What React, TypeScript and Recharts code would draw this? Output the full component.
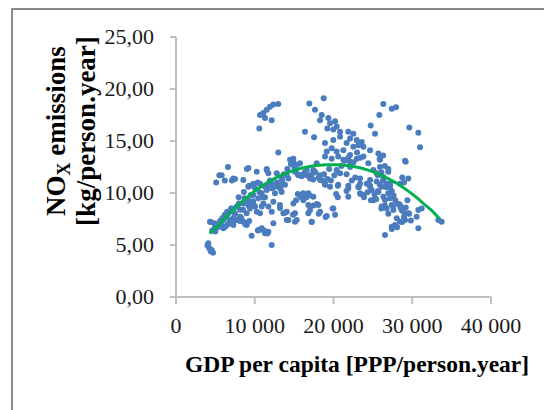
import React from "react";
import { ComposedChart, Scatter, XAxis, YAxis } from "recharts";

// ── Tokens ──
const BLUE = "#4A7CBE";
const GREEN = "#00B050";
const AXIS = "#BFBFBF";
const FONT = "'Liberation Serif', 'Times New Roman', serif";

// ── Data: [GDP per capita, NOx emissions] ──
const lowLeft: [number, number][] = [
  [4000, 4.95], [4200, 4.7], [4400, 4.4], [4700, 4.25], [4100, 5.16], [4530, 4.52],
  [4400, 7.2], [4900, 7.1], [5300, 6.7], [4600, 6.4], [5700, 7.0], [5000, 6.3], [6000, 6.6], [4320, 7.24], [4950, 6.76],
  [5100, 11.0], [5500, 11.7], [6600, 12.5], [6200, 11.2], [7100, 11.2], [7500, 11.35], [9000, 12.3], [9200, 12.4], [5800, 11.7], [7280, 11.4], [8550, 11.25],
  [5200, 6.9], [5600, 7.3], [5900, 7.6], [6200, 7.9], [6500, 8.2], [6800, 7.4], [7000, 8.5], [7200, 7.2], [7500, 8.0], [7800, 8.7],
  [8000, 9.0], [8300, 7.6], [8500, 8.4], [8700, 9.5], [9000, 7.1], [9200, 8.8], [9500, 9.8], [9800, 9.2], [6300, 6.8], [6600, 7.0],
  [7300, 7.6], [8100, 7.3], [8800, 7.0], [9300, 7.3], [9600, 5.9],
  [5590, 7.09], [6010, 7.4], [6440, 7.72], [6220, 6.76], [6860, 7.24], [7280, 6.92], [7700, 7.4], [8130, 7.72], [8550, 7.24], [8970, 6.92],
  [6640, 8.05], [7280, 8.2], [7700, 8.7], [7070, 8.5], [8130, 8.4], [8550, 9.0], [8970, 8.05], [9400, 8.5], [9820, 9.0],
  [9180, 9.3], [9820, 9.8], [7960, 9.6], [8620, 10.1], [9280, 10.7], [9060, 9.1], [9950, 10.55], [9180, 10.6], [9820, 10.9],
];

const middle: [number, number][] = [
  [10250, 8.2], [10450, 9.5], [10880, 9.97], [11300, 9.6], [11520, 10.3], [12150, 10.45], [12570, 9.97], [12990, 10.6], [13420, 10.1], [13840, 10.8],
  [11090, 9.0], [11730, 8.7], [12150, 8.2], [10670, 8.05], [10880, 8.7], [10030, 8.7],
  [12360, 9.17], [13200, 8.85], [13630, 8.05], [14060, 8.2], [14900, 9.0], [15110, 8.05], [15330, 7.4], [14270, 7.4], [15750, 9.8], [16170, 9.3], [16800, 9.97], [16800, 8.85],
  [12360, 7.1], [10880, 6.6], [10450, 6.44], [11300, 6.12], [11730, 6.28], [10400, 6.4], [10800, 6.5], [11200, 6.4], [11600, 6.1], [12150, 5.0],
  [13840, 8.1], [14060, 7.4], [14860, 7.9], [15110, 7.24], [13200, 8.55],
  [10390, 11.0], [10610, 10.07], [11050, 9.6], [11490, 10.7], [11930, 11.2], [12380, 10.55], [12820, 11.0], [13260, 10.4], [13480, 11.2], [13700, 11.8],
  [14140, 12.3], [14590, 12.8], [14810, 13.1], [15030, 12.45], [15470, 11.8], [15910, 11.7], [16350, 12.0], [15470, 9.9], [15250, 9.3], [15910, 9.6], [16570, 9.6],
  [10250, 12.05], [11520, 12.2], [11730, 11.9], [12790, 11.9], [13420, 11.4], [14060, 11.7], [14270, 11.4], [10670, 10.9], [11300, 10.6], [12150, 10.9], [13200, 10.7],
  [14480, 13.2], [14900, 13.0], [15330, 12.7], [15110, 12.05], [15540, 11.7], [15960, 11.6], [16600, 12.2], [14900, 13.3], [14690, 13.0], [11520, 12.3],
  [12990, 13.9], [15750, 12.85], [16600, 11.7], [17440, 11.3],
];

const highClusters: [number, number][] = [
  [10580, 16.2], [10670, 17.5], [11090, 17.7], [11520, 18.0], [11940, 18.3], [12360, 18.5], [12990, 18.55], [11300, 17.2], [12150, 17.0],
  [16380, 15.9], [16930, 18.6], [18750, 19.1], [17650, 18.0], [18500, 17.5], [18290, 17.0], [19350, 17.2], [19560, 16.7], [20200, 16.9],
  [20400, 16.4], [20830, 15.9], [19980, 16.1], [17530, 15.35], [19220, 16.2],
  [26330, 18.55], [27390, 18.1], [27940, 18.25], [25820, 17.5], [24720, 16.5], [25270, 15.7], [29630, 16.3], [30770, 15.8], [30990, 14.4], [29080, 13.1],
];

const right: [number, number][] = [
  [18920, 14.8], [19980, 15.1], [20830, 15.4], [21880, 15.9], [22520, 15.7], [22100, 15.25], [22950, 15.1], [23590, 14.9], [23800, 14.45], [23150, 14.6],
  [22520, 14.45], [21670, 14.8], [21250, 14.1], [20400, 14.0], [19770, 14.3], [19140, 14.0], [18920, 13.5], [19770, 13.3], [20600, 13.5], [21250, 13.2],
  [22100, 13.65], [22950, 13.3], [23800, 13.5], [24640, 14.1], [25700, 13.8], [25900, 13.2],
  [24420, 12.85], [25060, 12.2], [25900, 12.5], [25480, 11.9], [26330, 11.55], [26960, 12.05], [23370, 11.4], [24640, 11.25], [17870, 12.85], [17440, 12.2],
  [18290, 11.7], [17020, 11.4], [20400, 12.2], [20830, 11.9], [22100, 13.0],
  [18920, 10.8], [19560, 10.6], [20600, 10.8], [21880, 10.7], [23370, 10.9], [24640, 10.7], [25900, 10.8], [27170, 10.6], [28450, 10.9], [29500, 11.4],
  [16170, 9.97], [17440, 9.65], [17020, 8.37], [16800, 8.05], [18070, 8.85], [18290, 8.2], [17230, 7.24], [19140, 7.8], [19980, 8.5], [20200, 7.9],
  [21880, 10.45], [21880, 9.65], [23150, 10.6], [23370, 9.97], [23800, 9.8], [24640, 10.6], [24850, 10.3], [25270, 9.5], [25060, 9.3], [25700, 10.1],
  [26120, 10.6], [26330, 9.65], [26540, 9.33], [26960, 9.97], [27170, 9.5], [27390, 8.85], [26120, 8.7], [26750, 8.5], [27600, 8.37], [28450, 8.85],
  [28660, 8.37], [29080, 8.05], [28870, 8.5], [29500, 8.05], [28030, 7.57], [28450, 7.24], [27810, 6.92], [27390, 6.76], [29080, 7.4], [30770, 8.37],
  [30560, 7.72], [30770, 6.6], [31200, 8.5], [33310, 7.4], [33730, 7.24], [26540, 5.96],
  [18920, 10.9], [18290, 11.25], [24220, 10.9], [25480, 11.1], [26750, 10.9],
  [17020, 9.75], [17460, 8.8], [17900, 8.95], [18120, 8.0], [19000, 7.7], [19890, 8.5], [17240, 7.2],
  [17240, 11.8], [17680, 12.0], [18120, 11.5], [18560, 11.2], [18790, 11.8], [19230, 11.35], [19450, 12.3], [19670, 11.2], [20110, 11.7], [20550, 10.7], [20330, 9.9], [20550, 9.6],
  [21000, 12.6], [21440, 13.1], [21880, 13.4], [22100, 12.5], [22540, 12.95], [22990, 13.9], [23430, 13.4], [21660, 11.8], [22320, 11.2], [22760, 11.5],
  [21660, 10.2], [23210, 10.55], [23430, 9.9], [23870, 9.6], [24310, 10.07], [24750, 9.3], [25190, 9.9], [25640, 10.2], [25420, 9.4],
  [25640, 11.7], [26080, 12.0], [26300, 11.2], [26520, 12.6], [26960, 12.3], [25860, 13.3], [26300, 13.6], [26740, 10.55], [27180, 10.9], [27400, 10.2],
  [27630, 9.75], [27850, 9.3], [28290, 8.95], [28510, 8.6], [28730, 8.3], [28950, 7.7], [29170, 8.6], [29390, 9.3], [29610, 8.0], [29830, 7.35],
  [28730, 7.2], [28070, 6.7], [27400, 6.55], [26960, 8.0], [26520, 8.8], [26080, 8.5], [27630, 8.8], [29170, 13.0], [28730, 11.5], [28950, 11.0],
];

// trend line
const trendGdp = [4300, 5500, 7000, 8500, 10000, 11500, 13000, 14500, 16000, 17500, 19000, 20500, 22000, 23500, 25000, 26500, 28000, 29300, 30500, 31400, 32500, 33500];
const trendNox = [6.1, 7.0, 8.2, 9.25, 10.2, 10.95, 11.6, 12.05, 12.4, 12.62, 12.72, 12.72, 12.62, 12.4, 12.05, 11.55, 10.95, 10.3, 9.6, 9.0, 8.3, 7.5];

const xTicks = [0, 10000, 20000, 30000, 40000];
const yTicks = [0, 5, 10, 15, 20, 25];

const points = [...lowLeft, ...middle, ...highClusters, ...right].map(([x, y]) => ({ x, y }));
const trend = trendGdp.map((x, i) => ({ x, y: trendNox[i] }));

const fmtX = (v: number) => (v === 0 ? "0" : `${v / 1000} 000`);
const fmtY = (v: number) => v.toFixed(2).replace(".", ",");

const labelStyle = { fontFamily: FONT, fontSize: 22 };

export default function App() {
  return (
    <div style={{ position: "absolute", left: 0, top: 0, width: 544, height: 410, background: "#fff", overflow: "hidden", fontFamily: FONT }}>
      {/* outer frame */}
      <div style={{ position: "absolute", left: 11, top: 8, width: 560, height: 430, border: "2px solid #8a8a8a", boxSizing: "border-box" }} />

      <ComposedChart
        width={544}
        height={410}
        data={points}
        margin={{ top: 37, right: 53, left: 76, bottom: 53 }}
        style={{ position: "absolute", left: 0, top: 0 }}
      >
        <XAxis
          type="number"
          dataKey="x"
          domain={[0, 40000]}
          ticks={xTicks}
          height={60}
          stroke={AXIS}
          strokeWidth={2}
          tickSize={7}
          interval={0}
          tick={(p: any) => (
            <text x={p.x} y={p.y + 27} textAnchor="middle" fill="#1a1a1a" style={labelStyle}>
              {fmtX(p.payload.value)}
            </text>
          )}
        />
        <YAxis
          type="number"
          dataKey="y"
          domain={[0, 25]}
          ticks={yTicks}
          width={100}
          stroke={AXIS}
          strokeWidth={2}
          tickSize={6}
          interval={0}
          tick={(p: any) => (
            <text x={p.x - 14} y={p.y + 7} textAnchor="end" fill="#1a1a1a" style={labelStyle}>
              {fmtY(p.payload.value)}
            </text>
          )}
        />
        <Scatter
          data={points}
          dataKey="y"
          fill={BLUE}
          isAnimationActive={false}
          shape={(p: any) => <circle cx={p.cx} cy={p.cy} r={3} fill={BLUE} />}
        />
        <Scatter
          data={trend}
          dataKey="y"
          line={{ stroke: GREEN, strokeWidth: 3 }}
          lineType="joint"
          isAnimationActive={false}
          shape={() => <g />}
        />
      </ComposedChart>

      {/* y axis title */}
      <div
        style={{
          position: "absolute",
          left: 70 - 130,
          top: 131 - 27,
          width: 260,
          height: 54,
          transform: "rotate(-90deg)",
          textAlign: "center",
          fontWeight: "bold",
          fontSize: 27,
          lineHeight: "27px",
          color: "#000",
          whiteSpace: "nowrap",
        }}
      >
        <div>
          NO<span style={{ fontSize: 18, position: "relative", top: 5 }}>X</span> emissions
        </div>
        <div>[kg/person.year]</div>
      </div>

      {/* x axis title */}
      <div
        style={{
          position: "absolute",
          left: 157,
          top: 349,
          width: 400,
          textAlign: "center",
          fontWeight: "bold",
          fontSize: 23.5,
          lineHeight: "30px",
          color: "#000",
          whiteSpace: "nowrap",
        }}
      >
        GDP per capita [PPP/person.year]
      </div>
    </div>
  );
}
